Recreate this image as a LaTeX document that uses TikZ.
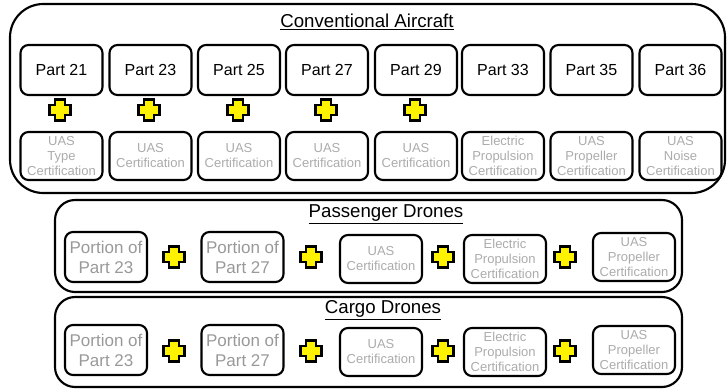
\documentclass[tikz,border=0pt]{standalone}
\usepackage{fontspec}
\setmainfont{Liberation Sans}
\begin{document}
\begin{tikzpicture}[x=0.75pt,y=-0.75pt,
  outer/.style={draw, line width=1.6pt, inner sep=0pt},
  title/.style={font=\fontsize{14}{16}\selectfont, inner sep=0pt},
  part/.style={draw, line width=1.6pt, rounded corners=6pt, minimum width=61.5pt, minimum height=37.5pt, inner sep=0pt, align=center, font=\fontsize{12}{14}\selectfont},
  cert/.style={part, minimum height=36pt, text=black!33, font=\fontsize{9.75}{11.25}\selectfont},
  portion/.style={part, text=black!40, font=\fontsize{12.75}{15}\selectfont},
  plus/.pic={\draw[line width=1.9pt, fill=yellow, line join=miter]
    (-5,-10.5) -- (5,-10.5) -- (5,-5) -- (10.5,-5) -- (10.5,5) -- (5,5) -- (5,10.5)
    -- (-5,10.5) -- (-5,5) -- (-10.5,5) -- (-10.5,-5) -- (-5,-5) -- cycle;}
]
\useasboundingbox (0,0) rectangle (728,389);

% Conventional aircraft
\node[outer, rounded corners=25pt, minimum width=536.25pt, minimum height=141.75pt] (conv) at (367.5,98.5) {};
\node[title] (convt) at (367,22) {\underline{Conventional Aircraft}};
\foreach \n/\x in {21/61.5, 23/150.5, 25/239, 27/327, 29/416, 33/503, 35/591.5, 36/680.5}{
  \node[part] (p\n) at (\x,70) {Part \n};
}
\node[cert] (c21) at (61.5,156) {UAS\\Type\\Certification};
\node[cert] (c23) at (150.5,156) {UAS\\Certification};
\node[cert] (c25) at (239,156) {UAS\\Certification};
\node[cert] (c27) at (327,156) {UAS\\Certification};
\node[cert] (c29) at (416,156) {UAS\\Certification};
\node[cert] (c33) at (503,156) {Electric\\Propulsion\\Certification};
\node[cert] (c35) at (591.5,156) {UAS\\Propeller\\Certification};
\node[cert] (c36) at (680.5,156) {UAS\\Noise\\Certification};
\foreach \x in {60,149,238,326,415}{
  \pic at (\x,110) {plus};
}

% Passenger drones
\node[outer, rounded corners=15pt, minimum width=470.25pt, minimum height=69pt] (pass) at (368.5,246) {};
\node[title] (passt) at (386,214) {\underline{Passenger Drones}};
\node[portion] (pp23) at (106,257) {Portion of\\Part 23};
\node[portion] (pp27) at (242.5,257) {Portion of\\Part 27};
\node[cert] (puas) at (381,259) {UAS\\Certification};
\node[cert] (pel) at (505,259) {Electric\\Propulsion\\Certification};
\node[cert] (ppr) at (634,257) {UAS\\Propeller\\Certification};
\foreach \x in {174,311,443,565}{
  \pic at (\x,257) {plus};
}

% Cargo drones
\node[outer, rounded corners=15pt, minimum width=470.25pt, minimum height=67.5pt] (cargo) at (368.5,342) {};
\node[title] (cargot) at (383,310) {\underline{Cargo Drones}};
\node[portion] (cp23) at (106,350) {Portion of\\Part 23};
\node[portion] (cp27) at (242.5,350) {Portion of\\Part 27};
\node[cert] (cuas) at (381,352) {UAS\\Certification};
\node[cert] (cel) at (505,352) {Electric\\Propulsion\\Certification};
\node[cert] (cpr) at (634,350) {UAS\\Propeller\\Certification};
\foreach \x in {174,311,443,565}{
  \pic at (\x,351) {plus};
}
\end{tikzpicture}
\end{document}
